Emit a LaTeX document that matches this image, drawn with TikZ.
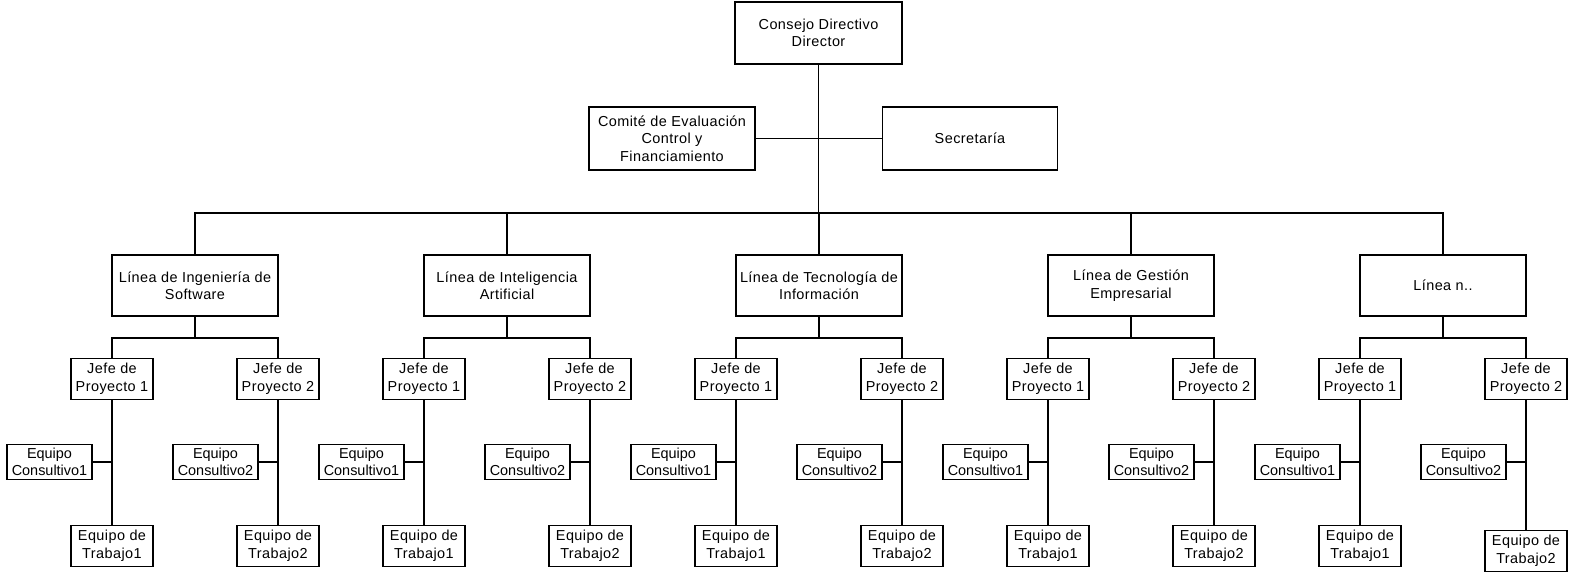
\documentclass[tikz,border=0pt]{standalone}
\usepackage{fontspec}
\setmainfont[LetterSpace=3]{Liberation Sans}
\begin{document}
\begin{tikzpicture}[x=0.72pt,y=-0.72pt,
  box/.style={draw,line width=1.3pt,align=center,inner sep=0pt,
    font=\fontsize{10.4}{12.6}\selectfont},
  topbox/.style={box,minimum width=120.2pt,minimum height=44.6pt},
  sidebox/.style={box,minimum width=119.5pt,minimum height=45.4pt},
  lineabox/.style={box,minimum width=119.5pt,minimum height=43.9pt},
  jefebox/.style={box,minimum width=59pt,minimum height=29.5pt},
  consbox/.style={box,minimum width=61.2pt,minimum height=25.2pt,
    font=\fontsize{10.4}{12.6}\selectfont\addfontfeatures{LetterSpace=0}},
  trabbox/.style={box,minimum width=59pt,minimum height=29.5pt},
  conn/.style={line width=1.3pt}]
\useasboundingbox (0,0) rectangle (1575,574);

% direction
\node[topbox] (cons) at (818.5,33) {Consejo Directivo\\Director};
\node[sidebox] (comite) at (672,138.5) {Comité de Evaluación\\Control y\\Financiamiento};
\node[sidebox,minimum width=126pt] (secr) at (970,138.5) {Secretaría};
\coordinate (bus) at (818.5,213);
\draw[conn] (cons.south) -- (bus);
\draw[conn] (comite.east) -- (secr.west);

% lines of work, each with two project leaders and their teams
\foreach \i/\txt in {1/{Línea de Ingeniería de\\Software},
                     2/{Línea de Inteligencia\\Artificial},
                     3/{Línea de Tecnología de\\Información},
                     4/{Línea de Gestión\\Empresarial},
                     5/{Línea n..}}{
  \pgfmathsetmacro\cx{195+312*(\i-1)}
  \pgfmathsetmacro\tyb{\i==5 ? 551 : 546}
  \node[lineabox] (L\i) at (\cx,285.5) {\txt};
  \coordinate (sb\i) at (\cx,338);
  \node[jefebox] (Ja\i) at (\cx-83,379) {Jefe de\\Proyecto 1};
  \node[jefebox] (Jb\i) at (\cx+83,379) {Jefe de\\Proyecto 2};
  \node[consbox] (Ca\i) at (\cx-83-62.5,462) {Equipo\\Consultivo1};
  \node[consbox] (Cb\i) at (\cx+83-62.5,462) {Equipo\\Consultivo2};
  \node[trabbox] (Ta\i) at (\cx-83,546) {Equipo de\\Trabajo1};
  \node[trabbox] (Tb\i) at (\cx+83,\tyb) {Equipo de\\Trabajo2};
  \draw[conn] (L\i.south) -- (sb\i);
  \draw[conn] (Ja\i.north) |- (sb\i) -| (Jb\i.north);
  \draw[conn] (Ja\i.south) -- (Ta\i.north);
  \draw[conn] (Jb\i.south) -- (Tb\i.north);
  \draw[conn] (Ca\i.east) -- (Ca\i.east -| Ja\i.south);
  \draw[conn] (Cb\i.east) -- (Cb\i.east -| Jb\i.south);
}

% main bus to every line
\draw[conn] (L1.north) |- (bus) -| (L5.north);
\foreach \i in {2,3,4}{
  \draw[conn] (L\i.north) -- (L\i.north |- bus);
}
\end{tikzpicture}
\end{document}
